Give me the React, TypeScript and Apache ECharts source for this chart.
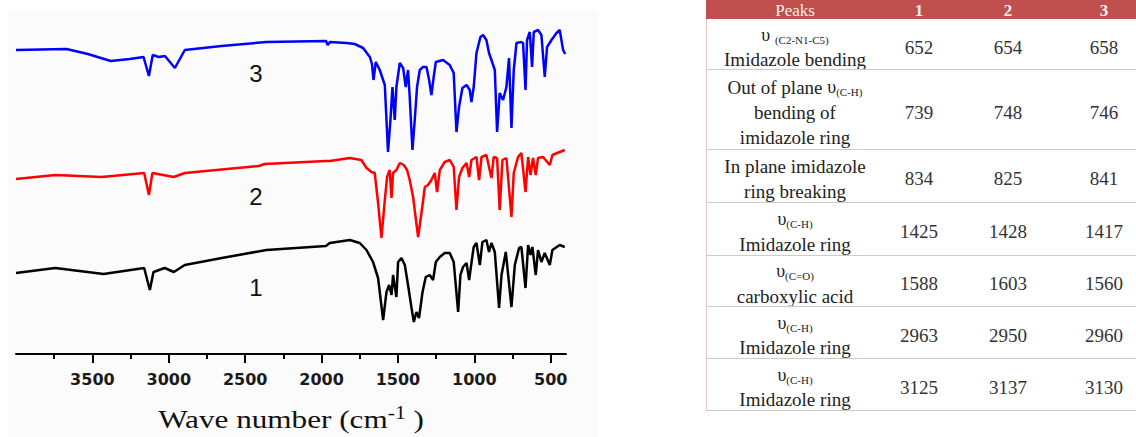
import React, { useEffect, useRef } from "react";
import * as echarts from "echarts";

// IR spectra: [wave number (cm-1), transmittance (a.u., offset per curve)]
const spectrum3: [number, number][] = [
  [4000, 304], [3670, 305], [3530, 300], [3380, 293], [3255, 295], [3165, 297], [3130, 278], [3105, 299],
  [3065, 297], [3025, 298], [2960, 286], [2895, 304], [2655, 308], [2360, 312], [1970, 313], [1960, 309],
  [1945, 312], [1837, 311], [1783, 310], [1728, 306], [1684, 297], [1670, 290], [1660, 274], [1645, 292],
  [1619, 284], [1586, 269], [1565, 202], [1549, 234], [1536, 267], [1521, 234], [1510, 267], [1488, 291],
  [1466, 286], [1449, 267], [1434, 284], [1423, 257], [1405, 204], [1390, 234], [1375, 267], [1357, 284],
  [1336, 287], [1313, 287], [1296, 274], [1281, 259], [1266, 277], [1252, 292], [1205, 294], [1161, 289],
  [1135, 281], [1117, 222], [1100, 247], [1078, 266], [1051, 269], [1030, 264], [1019, 252], [1004, 267],
  [986, 301], [960, 317], [943, 319], [921, 314], [904, 301], [888, 294], [866, 284], [851, 222],
  [834, 261], [812, 254], [790, 267], [773, 296], [757, 226], [742, 284], [724, 311], [692, 312],
  [681, 311], [665, 264], [655, 314], [637, 322], [622, 287], [611, 322], [583, 324], [561, 319],
  [539, 277], [524, 307], [495, 314], [462, 321], [441, 324], [419, 304], [405, 300],
];

const spectrum2: [number, number][] = [
  [4000, 175], [3743, 179], [3440, 177], [3161, 181], [3130, 159], [3107, 181], [2967, 177], [2895, 181],
  [2411, 188], [2373, 190], [1972, 193], [1946, 193], [1815, 196], [1739, 194], [1706, 186], [1673, 182],
  [1652, 181], [1630, 151], [1608, 116], [1586, 154], [1571, 177], [1554, 184], [1542, 156], [1532, 181],
  [1510, 184], [1488, 191], [1462, 189], [1440, 184], [1423, 174], [1401, 157], [1368, 117], [1346, 141],
  [1324, 167], [1303, 169], [1281, 174], [1259, 181], [1244, 162], [1226, 184], [1194, 192], [1161, 194],
  [1135, 187], [1117, 144], [1100, 177], [1078, 186], [1051, 191], [1034, 177], [1019, 194], [986, 197],
  [969, 174], [953, 197], [921, 199], [888, 176], [873, 197], [851, 196], [834, 144], [816, 194],
  [790, 196], [757, 137], [742, 181], [714, 197], [692, 201], [665, 162], [648, 197], [632, 179],
  [616, 196], [598, 179], [583, 196], [550, 197], [506, 189], [489, 199], [441, 202], [408, 204],
];

const spectrum1: [number, number][] = [
  [4000, 81], [3743, 86], [3427, 80], [3161, 86], [3124, 64], [3100, 82], [3027, 86], [2967, 82],
  [2895, 89], [2653, 96], [2360, 104], [1972, 108], [1946, 111], [1815, 114], [1750, 111], [1706, 104],
  [1663, 92], [1630, 76], [1597, 34], [1575, 62], [1558, 69], [1542, 59], [1532, 79], [1510, 57],
  [1499, 92], [1477, 96], [1455, 89], [1434, 69], [1411, 46], [1396, 32], [1379, 42], [1362, 36],
  [1339, 62], [1318, 77], [1292, 79], [1270, 74], [1252, 92], [1226, 97], [1194, 101], [1161, 101],
  [1135, 92], [1106, 42], [1091, 79], [1074, 87], [1051, 91], [1034, 74], [1019, 91], [1004, 107],
  [986, 111], [964, 89], [947, 112], [921, 114], [904, 102], [888, 111], [866, 102], [838, 46],
  [822, 79], [794, 102], [757, 47], [735, 89], [707, 106], [692, 107], [665, 66], [648, 109],
  [632, 99], [620, 107], [598, 79], [583, 104], [561, 92], [539, 101], [506, 89], [489, 104],
  [441, 109], [408, 107],
];

const majorTicks = [500, 1000, 1500, 2000, 2500, 3000, 3500];
const minorTicks = [750, 1250, 1750, 2250, 2750, 3250, 3750];
const curveNames = ["3", "2", "1"];

const tableHeader = ["Peaks", "1", "2", "3"];
const assignments: string[][] = [
  ["{u|υ} {s|(C2-N1-C5)}", "Imidazole bending"],
  ["Out of plane {u|υ}{s|(C-H)}", "bending of", "imidazole ring"],
  ["In plane imidazole", "ring breaking"],
  ["{u|υ}{s|(C-H)}", "Imidazole ring"],
  ["{u|υ}{s|(C=O)}", "carboxylic acid"],
  ["{u|υ}{s|(C-H)}", "Imidazole ring"],
  ["{u|υ}{s|(C-H)}", "Imidazole ring"],
];
const peaks1 = [652, 739, 834, 1425, 1588, 2963, 3125];
const peaks2 = [654, 748, 825, 1428, 1603, 2950, 3137];
const peaks3 = [658, 746, 841, 1417, 1560, 2960, 3130];

const serif = "'Liberation Serif', 'Times New Roman', serif";
const sans = "'Liberation Sans', Arial, sans-serif";

function buildTable(): any[] {
  const els: any[] = [];
  const left = 706;
  const right = 1136;
  const headerH = 19;
  const rowBottoms = [69, 149, 202, 255, 306, 358, 410];
  const colX = [795, 919, 1008, 1104];
  const valueCols = [peaks1, peaks2, peaks3];

  els.push({
    type: "rect",
    shape: { x: left, y: 0, width: right - left, height: headerH },
    style: { fill: "#c0504d" },
  });
  tableHeader.forEach((h, i) => {
    els.push({
      type: "text",
      x: colX[i],
      y: headerH / 2 + 1,
      style: {
        text: h,
        fill: "#fbeeee",
        fontSize: 17,
        fontFamily: serif,
        fontWeight: i === 0 ? "normal" : "bold",
        textAlign: "center",
        textVerticalAlign: "middle",
        align: "center",
        verticalAlign: "middle",
      },
    });
  });

  assignments.forEach((lines, r) => {
    const top = r === 0 ? headerH : rowBottoms[r - 1];
    const bottom = rowBottoms[r];
    const cy = (top + bottom) / 2 + 3;
    els.push({
      type: "text",
      x: colX[0],
      y: cy,
      style: {
        text: lines.join("\n"),
        fill: "#222",
        fontSize: 19,
        fontFamily: serif,
        lineHeight: 25,
        textAlign: "center",
        textVerticalAlign: "middle",
        align: "center",
        verticalAlign: "middle",
        rich: {
          u: { fontSize: 18, fontFamily: serif, fill: "#222", lineHeight: 25 },
          s: {
            fontSize: 11,
            fontFamily: serif,
            fill: "#222",
            lineHeight: 25,
            verticalAlign: "bottom",
            padding: [0, 0, 2, 0],
          },
        },
      },
    });
    valueCols.forEach((col, c) => {
      els.push({
        type: "text",
        x: colX[c + 1],
        y: cy,
        style: {
          text: String(col[r]),
          fill: "#333",
          fontSize: 19,
          fontFamily: serif,
          textAlign: "center",
          textVerticalAlign: "middle",
          align: "center",
          verticalAlign: "middle",
        },
      });
    });
    els.push({
      type: "line",
      shape: { x1: left, y1: bottom + 0.5, x2: right, y2: bottom + 0.5 },
      style: { stroke: "#cccccc", lineWidth: 1 },
    });
  });
  els.push({
    type: "line",
    shape: { x1: left + 0.5, y1: headerH, x2: left + 0.5, y2: rowBottoms[rowBottoms.length - 1] },
    style: { stroke: "#e2c6c6", lineWidth: 1 },
  });
  return els;
}

function buildLabels(): any[] {
  const pos = [
    [256, 73],
    [256, 196],
    [256, 287],
  ];
  const els: any[] = curveNames.map((t, i) => ({
    type: "text",
    x: pos[i][0],
    y: pos[i][1],
    style: {
      text: t,
      fill: "#111",
      fontSize: 24,
      fontFamily: sans,
      textAlign: "center",
      textVerticalAlign: "middle",
      align: "center",
      verticalAlign: "middle",
    },
  }));
  els.push({
    type: "text",
    x: 291,
    y: 419,
    scaleX: 1.2,
    style: {
      text: "Wave number (cm{sup|-1} )",
      fill: "#111",
      fontSize: 26,
      fontFamily: serif,
      textAlign: "center",
      textVerticalAlign: "middle",
      align: "center",
      verticalAlign: "middle",
      lineHeight: 30,
      rich: {
        sup: { fontSize: 18, fontFamily: serif, fill: "#111", verticalAlign: "top", lineHeight: 30 },
      },
    },
  });
  return els;
}

export default function App() {
  const ref = useRef<HTMLDivElement>(null);
  useEffect(() => {
    if (!ref.current) return;
    const chart = echarts.init(ref.current, null, { renderer: "svg" });
    const lineSeries = (data: [number, number][], color: string) => ({
      type: "line",
      data,
      symbol: "none",
      smooth: false,
      lineStyle: { color, width: 2.5 },
      itemStyle: { color },
      z: 3,
    });
    chart.setOption({
      animation: false,
      backgroundColor: "#ffffff",
      grid: { left: 16, top: 14, width: 550, height: 340, containLabel: false },
      xAxis: [
        {
          type: "value",
          min: 400,
          max: 4000,
          inverse: true,
          position: "bottom",
          offset: 0,
          axisLine: { show: true, onZero: false, lineStyle: { color: "#000", width: 2 } },
          axisTick: { show: true, inside: false, length: 9, customValues: majorTicks, lineStyle: { color: "#000", width: 2 } },
          axisLabel: {
            show: true,
            customValues: majorTicks,
            formatter: (v: number) => String(v),
            margin: 17,
            fontFamily: "'DejaVu Sans', sans-serif",
            fontWeight: "bold",
            fontSize: 16,
            color: "#1a1a1a",
          },
          splitLine: { show: false },
        },
        {
          type: "value",
          min: 400,
          max: 4000,
          inverse: true,
          position: "bottom",
          offset: 0,
          gridIndex: 0,
          axisLine: { show: false },
          axisTick: { show: true, inside: false, length: 5, customValues: minorTicks, lineStyle: { color: "#000", width: 2 } },
          axisLabel: { show: false },
          splitLine: { show: false },
        },
      ],
      yAxis: { type: "value", min: 0, max: 340, show: false },
      series: [
        lineSeries(spectrum1, "#000000"),
        lineSeries(spectrum2, "#ff0000"),
        lineSeries(spectrum3, "#0000ff"),
      ],
      graphic: [
        {
          type: "rect",
          z: -100,
          shape: { x: 8, y: 10, width: 590, height: 427 },
          style: { fill: "#fbfbfb" },
          silent: true,
        },
        ...buildLabels(),
        ...buildTable(),
      ],
    });
    return () => chart.dispose();
  }, []);
  return <div ref={ref} style={{ position: "fixed", left: 0, top: 0, width: 1136, height: 437 }} />;
}
